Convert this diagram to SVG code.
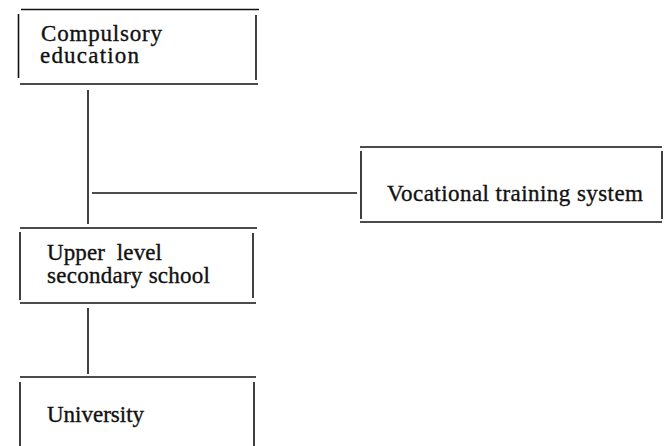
<svg xmlns="http://www.w3.org/2000/svg" width="669" height="446" viewBox="0 0 669 446">
<style>
.ln{stroke:#111;stroke-width:1.6;fill:none}
.t{font-family:'Liberation Serif','Times New Roman',Times,serif;font-size:23px;fill:#111;stroke:#111;stroke-width:0.35}
</style>
<rect width="669" height="446" fill="#fff"/>
<g id="connectors">
<path class="ln" d="M88,90 V224"/>
<path class="ln" d="M92,193 H357"/>
<path class="ln" d="M88,308 V374"/>
</g>
<g id="compulsory">
<path class="ln" d="M21,9.5 H259 M18.5,14 V78 M256,15 V80 M20,84 H258"/>
<text class="t" x="41" y="40.5" textLength="121" lengthAdjust="spacing">Compulsory</text>
<text class="t" x="40" y="63.3" textLength="99" lengthAdjust="spacing">education</text>
</g>
<g id="vocational">
<path class="ln" d="M360,147 H662 M361,151 V219 M662,151 V219 M360,222 H662"/>
<text class="t" x="387" y="200.5" textLength="256" lengthAdjust="spacing">Vocational training system</text>
</g>
<g id="upper">
<path class="ln" d="M20,228 H257 M20,232 V300 M253,233 V298 M20,303 H256"/>
<text class="t" x="47" y="260" textLength="115" lengthAdjust="spacing">Upper&#160; level</text>
<text class="t" x="47" y="283" textLength="163" lengthAdjust="spacing">secondary school</text>
</g>
<g id="university">
<path class="ln" d="M20,377 H256 M20,382 V446 M254,382 V446"/>
<text class="t" x="47" y="421.5" textLength="97" lengthAdjust="spacing">University</text>
</g>
</svg>
